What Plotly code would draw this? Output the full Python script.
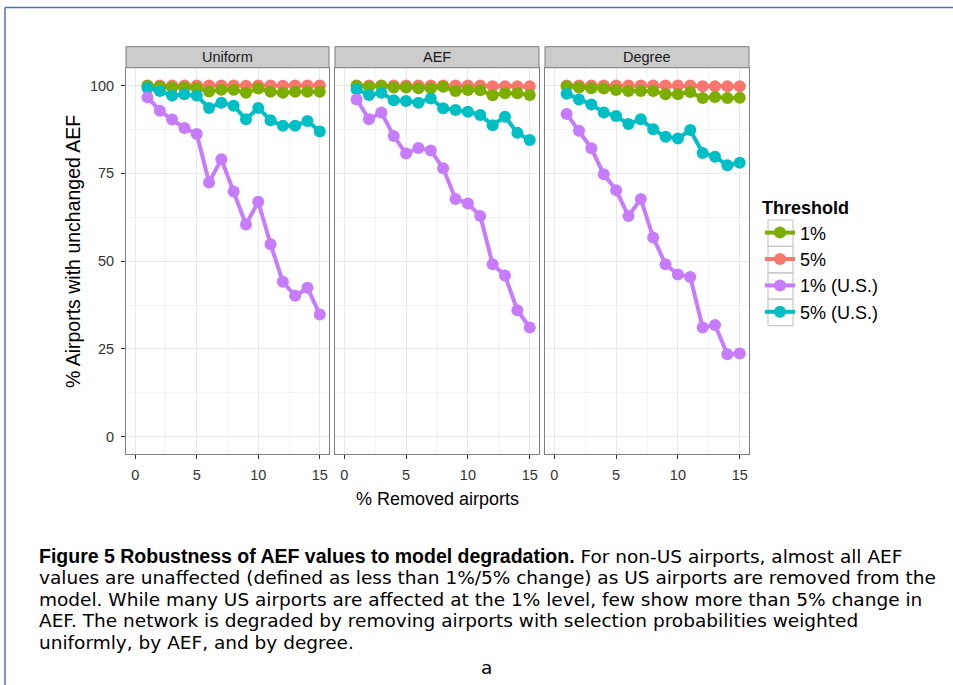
import plotly.graph_objects as go

W, H = 953, 685

removed_pct = [1, 2, 3, 4, 5, 6, 7, 8, 9, 10, 11, 12, 13, 14, 15]
panels = ["Uniform", "AEF", "Degree"]
series_names = ["1%", "5%", "1% (U.S.)", "5% (U.S.)"]
series_colors = {"1%": "#7CAE00", "5%": "#F8766D", "1% (U.S.)": "#C77CFF", "5% (U.S.)": "#00BFC4"}

uniform_1 = [99.9, 99.6, 99.4, 99.4, 99.2, 98.3, 98.8, 98.8, 97.9, 99.1, 98.2, 97.9, 98.2, 98.2, 98.2]
uniform_5 = [100.0, 100.0, 100.0, 100.0, 100.0, 100.0, 100.0, 100.0, 99.9, 100.0, 100.0, 99.9, 100.0, 100.0, 100.0]
uniform_1us = [96.6, 92.8, 90.3, 87.9, 86.2, 72.4, 79.0, 69.8, 60.4, 66.9, 54.8, 44.1, 40.1, 42.4, 34.8]
uniform_5us = [99.3, 98.4, 97.1, 97.5, 97.1, 93.6, 95.1, 94.2, 90.4, 93.6, 90.1, 88.5, 88.5, 89.9, 86.9]

aef_1 = [99.9, 99.6, 99.9, 99.4, 99.4, 99.2, 99.1, 99.6, 98.4, 98.7, 98.6, 97.2, 97.8, 97.8, 97.3]
aef_5 = [100.0, 100.0, 100.0, 100.0, 100.0, 100.0, 100.0, 100.0, 100.0, 100.0, 100.0, 99.8, 99.8, 99.8, 99.8]
aef_1us = [96.0, 90.4, 92.3, 85.6, 80.6, 82.2, 81.5, 76.4, 67.7, 66.4, 62.8, 49.1, 45.9, 36.0, 31.1]
aef_5us = [98.9, 97.3, 97.9, 95.8, 95.6, 95.1, 96.3, 93.5, 93.0, 92.5, 91.6, 88.7, 91.1, 86.5, 84.5]

degree_1 = [99.8, 99.4, 99.2, 99.1, 98.7, 98.4, 98.4, 98.4, 97.5, 97.5, 98.1, 96.4, 96.7, 96.4, 96.5]
degree_5 = [100.0, 100.0, 100.0, 100.0, 100.0, 100.0, 100.0, 100.0, 100.0, 100.0, 100.0, 99.8, 99.8, 99.8, 99.8]
degree_1us = [91.9, 87.1, 82.1, 74.7, 70.2, 62.8, 67.7, 56.7, 49.1, 46.2, 45.5, 31.1, 31.8, 23.5, 23.7]
degree_5us = [97.6, 96.0, 94.6, 92.3, 91.3, 89.0, 90.4, 87.5, 85.4, 84.9, 87.3, 80.8, 79.7, 77.3, 78.0]

x_ticks = [0, 5, 10, 15]
y_ticks = [0, 25, 50, 75, 100]

caption_title = "Figure 5 Robustness of AEF values to model degradation."
caption_lines = [
    " For non-US airports, almost all AEF",
    "values are unaffected (defined as less than 1%/5% change) as US airports are removed from the",
    "model. While many US airports are affected at the 1% level, few show more than 5% change in",
    "AEF. The network is degraded by removing airports with selection probabilities weighted",
    "uniformly, by AEF, and by degree.",
]

data = {
    "Uniform": {"1%": uniform_1, "5%": uniform_5, "1% (U.S.)": uniform_1us, "5% (U.S.)": uniform_5us},
    "AEF": {"1%": aef_1, "5%": aef_5, "1% (U.S.)": aef_1us, "5% (U.S.)": aef_5us},
    "Degree": {"1%": degree_1, "5%": degree_5, "1% (U.S.)": degree_1us, "5% (U.S.)": degree_5us},
}

FONT = "Liberation Sans, Arial, sans-serif"
CAP_FONT = "DejaVu Sans, Liberation Sans, sans-serif"

def px(x):
    return x / W

def py(y):
    return 1 - y / H

panel_px = [(126, 329), (335, 539), (545, 749)]
top_px, bot_px, strip_top_px = 67.7, 454.3, 46.7

fig = go.Figure()
draw_order = ["5%", "1%", "5% (U.S.)", "1% (U.S.)"]
rank = {"1%": 1, "5%": 2, "1% (U.S.)": 3, "5% (U.S.)": 4}

for i, p in enumerate(panels):
    ax = "" if i == 0 else str(i + 1)
    for s in draw_order:
        fig.add_trace(go.Scatter(
            x=removed_pct, y=data[p][s], mode="lines+markers", name=s,
            line=dict(color=series_colors[s], width=4),
            marker=dict(color=series_colors[s], size=12),
            legendgroup=s, legendrank=rank[s], showlegend=(i == 0),
            xaxis="x" + ax, yaxis="y" + ax,
        ))

layout = dict(
    width=W, height=H, autosize=False,
    margin=dict(l=0, r=0, t=0, b=0),
    paper_bgcolor="white", plot_bgcolor="white",
    font=dict(family=FONT, color="#000000"),
    showlegend=True,
    legend=dict(
        x=px(760), y=py(191), xanchor="left", yanchor="top",
        title=dict(text="<b>Threshold</b>", font=dict(size=18, family=FONT, color="#000")),
        font=dict(size=18, family=FONT, color="#000"),
        bgcolor="rgba(0,0,0,0)", itemwidth=30, tracegroupgap=0,
    ),
)

shapes = []
annotations = []
for i, p in enumerate(panels):
    ax = "" if i == 0 else str(i + 1)
    x0, x1 = panel_px[i]
    layout["xaxis" + ax] = dict(
        domain=[px(x0), px(x1)], range=[-0.75, 15.75], anchor="y" + ax,
        tickvals=x_ticks, ticks="outside", ticklen=4, tickwidth=1, tickcolor="#333333",
        tickfont=dict(size=14.5, color="#333333", family=FONT), ticklabelstandoff=3,
        showgrid=True, gridcolor="#e8e8e8", gridwidth=1,
        minor=dict(dtick=2.5, tick0=0, showgrid=True, gridcolor="#f4f4f4", gridwidth=1),
        zeroline=False, showline=True, linecolor="#7f7f7f", linewidth=1, mirror=True,
    )
    layout["yaxis" + ax] = dict(
        domain=[py(bot_px), py(top_px)], range=[-5.0, 105.05], anchor="x" + ax,
        tickvals=y_ticks, showticklabels=(i == 0),
        ticks="outside" if i == 0 else "", ticklen=4, tickwidth=1, tickcolor="#333333",
        tickfont=dict(size=14.5, color="#333333", family=FONT), ticklabelstandoff=4,
        showgrid=True, gridcolor="#e8e8e8", gridwidth=1,
        minor=dict(dtick=12.5, tick0=0, showgrid=True, gridcolor="#f4f4f4", gridwidth=1),
        zeroline=False, showline=True, linecolor="#7f7f7f", linewidth=1, mirror=True,
    )
    shapes.append(dict(type="rect", xref="paper", yref="paper",
                       x0=px(x0), x1=px(x1), y0=py(top_px), y1=py(strip_top_px),
                       fillcolor="#cccccc", line=dict(color="#7f7f7f", width=1)))
    annotations.append(dict(text=p, xref="paper", yref="paper", x=px((x0 + x1) / 2),
                            y=py((top_px + strip_top_px) / 2), showarrow=False,
                            xanchor="center", yanchor="middle",
                            font=dict(size=14.5, color="#1a1a1a", family=FONT)))

# legend key boxes
for k in range(4):
    yt = 220 + k * 26.4
    shapes.append(dict(type="rect", xref="paper", yref="paper",
                       x0=px(768), x1=px(793), y0=py(yt + 26.4), y1=py(yt),
                       fillcolor="rgba(0,0,0,0)", line=dict(color="#c8c8c8", width=1.2)))

# axis titles
annotations.append(dict(text="% Removed airports", xref="paper", yref="paper",
                        x=px(437.5), y=py(499), showarrow=False, xanchor="center",
                        yanchor="middle", font=dict(size=18, family=FONT, color="#000")))
annotations.append(dict(text="% Airports with unchanged AEF", xref="paper", yref="paper",
                        x=px(73), y=py(252), showarrow=False, xanchor="center",
                        yanchor="middle", textangle=-90,
                        font=dict(size=19.5, family=FONT, color="#000")))

# caption
cap_centers = [555.7, 577.4, 599.2, 620.9, 642.6]
first = ("<b><span style='font-family:Liberation Sans, Arial, sans-serif;font-size:19.5px'>"
         + caption_title + "</span></b>" + caption_lines[0])
texts = [first] + caption_lines[1:]
for line, yc in zip(texts, cap_centers):
    annotations.append(dict(text=line, xref="paper", yref="paper", x=px(37), y=py(yc),
                            showarrow=False, xanchor="left", yanchor="middle",
                            font=dict(size=18.5, family=CAP_FONT, color="#000")))
annotations.append(dict(text="a", xref="paper", yref="paper", x=px(487), y=py(667),
                        showarrow=False, xanchor="center", yanchor="middle",
                        font=dict(size=18.5, family=CAP_FONT, color="#000")))

# page frame
shapes.append(dict(type="line", xref="paper", yref="paper", x0=px(5), x1=px(953),
                   y0=py(7.5), y1=py(7.5), line=dict(color="#4f74a0", width=1.5)))
shapes.append(dict(type="line", xref="paper", yref="paper", x0=px(5), x1=px(5),
                   y0=py(7.5), y1=py(685), line=dict(color="#4f74a0", width=1.5)))

layout["shapes"] = shapes
layout["annotations"] = annotations
fig.update_layout(**layout)
fig.write_html("out.html")
